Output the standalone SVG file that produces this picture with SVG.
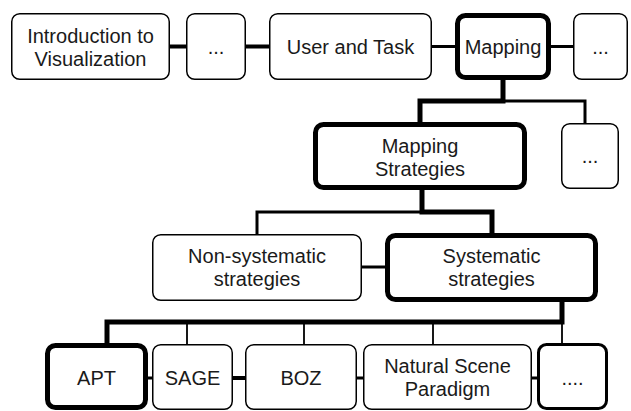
<svg xmlns="http://www.w3.org/2000/svg" width="631" height="411" viewBox="0 0 631 411">
<style>
.box{fill:#fff;stroke:#000;stroke-width:1.5}
.bold{stroke-width:5}
.mid{stroke-width:3}
text{font-family:"Liberation Sans",Arial,sans-serif;font-size:20px;fill:#1a1a1a;text-anchor:middle}
.c{fill:none;stroke:#000;stroke-linejoin:miter;stroke-linecap:butt}
.w5{stroke-width:5}.w4{stroke-width:4}.w3{stroke-width:3}.w2{stroke-width:1.8}
</style>
<rect width="631" height="411" fill="#fff"/>
<g id="connectors">
<path class="c w4" d="M170,46.5H186M246,46.5H269"/>
<path class="c w3" d="M432,46.5H455M551,46.5H573"/>
<path class="c w3" d="M503,101H585V123"/>
<path class="c w5" d="M503,78V101H420V124"/>
<path class="c w3" d="M422,212H257V234"/>
<path class="c w5" d="M422,188V212H492V236"/>
<path class="c w3" d="M362,267H386"/>
<path class="c w2" d="M187,322V344M304,322V344M433,322V344M562,322V344"/>
<path class="c w5" d="M562,300V322H107V345"/>
<path class="c w3" d="M148,378H152M357,378H363M532,378H538"/>
<path class="c w4" d="M233,378H245"/>
</g>
<g id="intro"><rect class="box" x="11.75" y="13.75" width="157.5" height="65.5" rx="8"/><text x="90.5" y="42.5">Introduction to</text><text x="90.5" y="65.5">Visualization</text></g>
<g id="dots1"><rect class="box" x="186.75" y="13.75" width="58.5" height="65.5" rx="8"/><text x="216" y="54">...</text></g>
<g id="user"><rect class="box" x="269.75" y="13.75" width="161.5" height="65.5" rx="8"/><text x="350.5" y="54">User and Task</text></g>
<g id="mapping"><rect class="box bold" x="457.5" y="15.5" width="91" height="62" rx="8"/><text x="503" y="54">Mapping</text></g>
<g id="dots2"><rect class="box" x="573.75" y="13.75" width="53.5" height="65.5" rx="8"/><text x="600.5" y="54">...</text></g>
<g id="mappingStrategies"><rect class="box bold" x="315.5" y="124.5" width="209" height="63" rx="8"/><text x="420" y="152.5">Mapping</text><text x="420" y="175.5">Strategies</text></g>
<g id="dots3"><rect class="box" x="561.75" y="123.75" width="56.5" height="64.5" rx="8"/><text x="590" y="163">...</text></g>
<g id="nonSystematic"><rect class="box" x="152.75" y="234.75" width="208.5" height="65.5" rx="8"/><text x="257" y="263">Non-systematic</text><text x="257" y="286">strategies</text></g>
<g id="systematic"><rect class="box bold" x="387.5" y="235.5" width="208" height="64" rx="8"/><text x="491.5" y="263">Systematic</text><text x="491.5" y="286">strategies</text></g>
<g id="apt"><rect class="box bold" x="47.5" y="345.5" width="98" height="62" rx="8"/><text x="96.5" y="385">APT</text></g>
<g id="sage"><rect class="box" x="152.75" y="344.75" width="79.5" height="64.5" rx="8"/><text x="192.5" y="385">SAGE</text></g>
<g id="boz"><rect class="box" x="245.75" y="344.75" width="110.5" height="64.5" rx="8"/><text x="301" y="385">BOZ</text></g>
<g id="naturalScene"><rect class="box" x="363.75" y="344.75" width="167.5" height="64.5" rx="8"/><text x="447.5" y="373">Natural Scene</text><text x="447.5" y="396">Paradigm</text></g>
<g id="dots4"><rect class="box mid" x="538.5" y="344.5" width="68" height="64" rx="8"/><text x="572.5" y="385">....</text></g>
</svg>
